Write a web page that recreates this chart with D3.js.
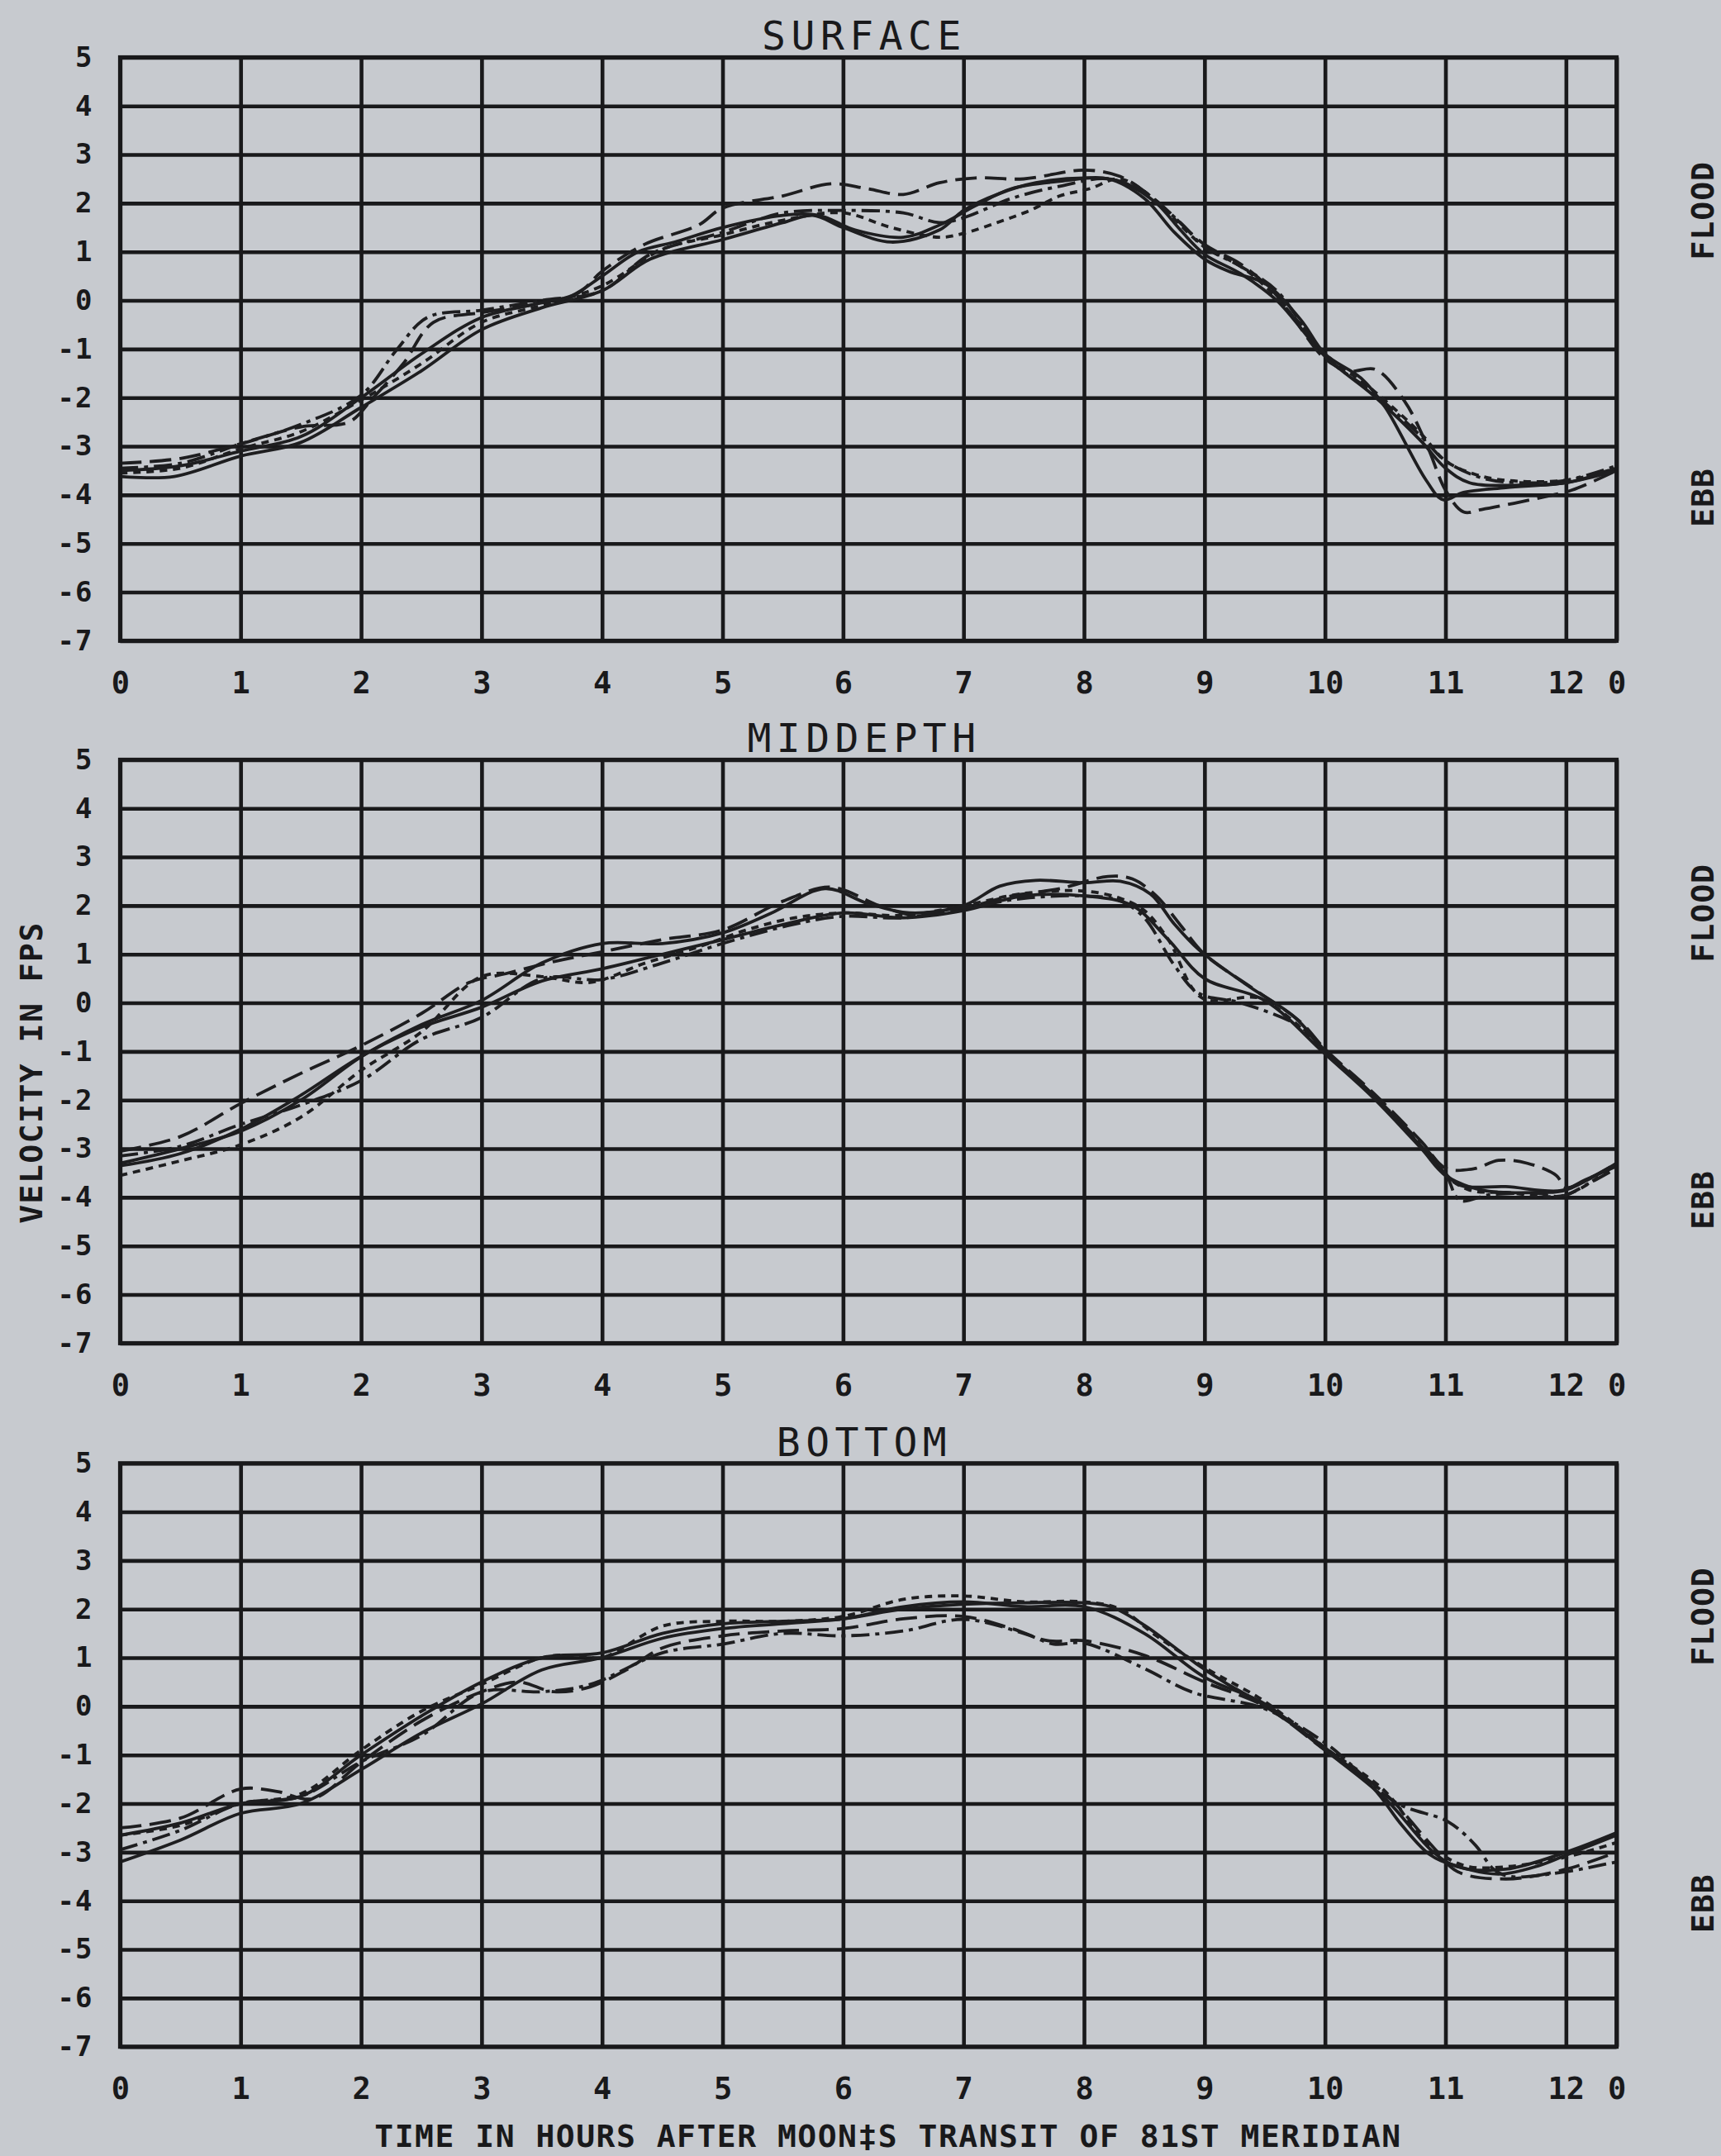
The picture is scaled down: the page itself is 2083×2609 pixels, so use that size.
<!DOCTYPE html>
<html><head><meta charset="utf-8">
<script src="https://cdn.jsdelivr.net/npm/d3@7"></script>
<style>html,body{margin:0;padding:0;background:#c7cacf;} svg{display:block}</style>
</head><body>
<svg id="c" width="2083" height="2609"></svg>
<script>
// ---------- DATA ----------
const xTickValues = [0,1,2,3,4,5,6,7,8,9,10,11,12,12.42];
const xTickLabels = ["0","1","2","3","4","5","6","7","8","9","10","11","12","0"];
const yTickValues = [5,4,3,2,1,0,-1,-2,-3,-4,-5,-6,-7];
const panelTitles = ["SURFACE","MIDDEPTH","BOTTOM"];
const sideLabels = ["FLOOD","EBB"];
const sideLabelValues = [1.85,-4.05];
const yTitle = "VELOCITY IN FPS";
const xTitle = "TIME IN HOURS AFTER MOON‡S TRANSIT OF 81ST MERIDIAN";

// SURFACE  [hour, velocity fps]
const surfaceA = [[0,-3.62],[0.45,-3.62],[1,-3.2],[1.5,-2.92],[2,-2.2],[2.5,-1.45],[3,-0.6],[3.5,-0.15],[4,0.2],[4.4,0.85],[5,1.25],[5.5,1.6],[5.75,1.75],[6,1.5],[6.4,1.2],[6.8,1.45],[7,1.85],[7.3,2.2],[7.6,2.42],[8,2.52],[8.3,2.45],[8.6,2.0],[8.8,1.45],[9,0.95],[9.3,0.55],[9.6,0.0],[10,-1.15],[10.4,-1.95],[10.8,-2.9],[11,-3.45],[11.2,-3.75],[11.6,-3.8],[12,-3.75],[12.42,-3.45]];
const surfaceB = [[0,-3.35],[0.5,-3.25],[1,-2.95],[1.5,-2.6],[1.9,-2.5],[2.1,-2.0],[2.35,-1.3],[2.6,-0.45],[3,-0.25],[3.5,-0.05],[3.8,0.15],[4,0.6],[4.35,1.15],[4.8,1.55],[5,1.9],[5.5,2.15],[5.9,2.4],[6.2,2.3],[6.5,2.18],[6.8,2.42],[7.1,2.52],[7.5,2.5],[8,2.68],[8.3,2.55],[8.6,2.05],[9,1.15],[9.3,0.75],[9.6,0.1],[10,-1.2],[10.2,-1.45],[10.42,-1.42],[10.66,-2.07],[10.85,-3.0],[11.0,-3.9],[11.15,-4.35],[11.3,-4.3],[11.8,-4.05],[12.05,-3.9],[12.42,-3.5]];
const surfaceC = [[0,-3.55],[0.5,-3.45],[1,-3.05],[1.5,-2.7],[2,-2.05],[2.5,-1.3],[3,-0.45],[3.5,-0.1],[4,0.3],[4.5,1.05],[5,1.35],[5.5,1.65],[6,1.8],[6.4,1.5],[6.8,1.3],[7,1.38],[7.3,1.62],[7.55,1.85],[7.8,2.15],[8.05,2.3],[8.3,2.5],[8.6,2.05],[8.8,1.55],[9,1.1],[9.3,0.7],[9.5,0.3],[9.8,-0.5],[10,-1.1],[10.4,-1.85],[10.8,-2.75],[11,-3.3],[11.25,-3.58],[11.5,-3.7],[12,-3.7],[12.42,-3.45]];
const surfaceD = [[0,-3.45],[0.5,-3.35],[1,-2.95],[1.5,-2.55],[2,-1.95],[2.3,-1.0],[2.55,-0.35],[3,-0.2],[3.5,0.0],[4,0.2],[4.4,0.95],[5,1.4],[5.5,1.8],[6,1.85],[6.5,1.8],[6.8,1.6],[7,1.7],[7.4,2.1],[7.8,2.35],[8.2,2.5],[8.5,2.2],[8.8,1.6],[9,1.1],[9.3,0.7],[9.6,0.2],[10,-1.15],[10.4,-1.9],[10.8,-2.8],[11,-3.3],[11.3,-3.65],[11.6,-3.75],[12,-3.7],[12.42,-3.4]];
const surfaceE = [[0,-3.5],[0.5,-3.4],[1,-3.1],[1.5,-2.8],[2,-2.0],[2.5,-1.1],[3,-0.35],[3.5,-0.05],[3.75,0.1],[4,0.5],[4.3,1.0],[4.6,1.2],[5,1.5],[5.5,1.75],[5.8,1.75],[6.1,1.45],[6.5,1.3],[6.8,1.55],[7.1,1.95],[7.4,2.3],[7.8,2.45],[8.2,2.5],[8.5,2.1],[8.75,1.4],[9,0.85],[9.2,0.6],[9.5,0.35],[9.8,-0.4],[10,-1.1],[10.3,-1.6],[10.5,-2.2],[10.84,-3.7],[10.98,-4.1],[11.15,-3.95],[11.5,-3.85],[12,-3.75],[12.42,-3.5]];

// MIDDEPTH
const midA = [[0,-3.3],[0.5,-3.0],[1,-2.64],[1.5,-2.0],[2,-1.11],[2.5,-0.45],[3,0.05],[3.5,0.82],[4,1.22],[4.5,1.22],[5,1.44],[5.4,1.84],[5.85,2.35],[6.2,2.05],[6.55,1.85],[7,2.0],[7.3,2.4],[7.6,2.52],[8,2.47],[8.3,2.5],[8.55,2.24],[8.75,1.62],[8.95,1.1],[9.35,0.37],[9.75,-0.3],[10,-0.98],[10.4,-1.89],[10.76,-2.85],[10.96,-3.41],[11.12,-3.75],[11.5,-3.78],[11.96,-3.86],[12.16,-3.64],[12.42,-3.36]];
const midB = [[0,-3.05],[0.5,-2.75],[1,-2.07],[1.5,-1.45],[2,-0.88],[2.5,-0.22],[2.9,0.42],[3.2,0.6],[3.6,0.85],[4,1.05],[4.5,1.3],[5,1.5],[5.5,2.09],[5.9,2.38],[6.3,2.0],[6.6,1.8],[7,1.95],[7.4,2.2],[7.8,2.35],[8.2,2.6],[8.4,2.55],[8.6,2.2],[8.8,1.6],[9,1.0],[9.4,0.3],[9.8,-0.4],[10,-0.95],[10.4,-1.85],[10.8,-2.85],[11,-3.4],[11.24,-3.41],[11.44,-3.24],[11.68,-3.3],[11.92,-3.55],[12,-3.8],[12.2,-3.6],[12.42,-3.3]];
const midC = [[0,-3.55],[0.5,-3.25],[1,-2.92],[1.5,-2.35],[2,-1.39],[2.5,-0.6],[3,0.54],[3.5,0.54],[3.9,0.42],[4.36,0.82],[4.8,1.15],[5.2,1.5],[5.6,1.75],[6,1.85],[6.5,1.8],[7,2.0],[7.5,2.25],[8,2.3],[8.3,2.15],[8.5,1.9],[8.7,1.3],[8.98,0.1],[9.45,0.1],[9.7,-0.3],[10,-1.0],[10.4,-1.9],[10.8,-2.95],[11.0,-3.55],[11.2,-3.85],[11.5,-3.9],[12,-3.95],[12.42,-3.3]];
const midD = [[0,-3.15],[0.5,-2.95],[1,-2.5],[1.5,-2.1],[2,-1.6],[2.5,-0.75],[3,-0.3],[3.5,0.5],[4,0.48],[4.5,0.82],[5,1.22],[5.58,1.61],[6,1.78],[6.5,1.75],[7,1.95],[7.5,2.15],[8,2.2],[8.3,2.1],[8.5,1.75],[8.75,0.77],[8.95,0.2],[9.3,0.0],[9.8,-0.5],[10,-1.0],[10.4,-1.9],[10.8,-2.9],[11.0,-3.5],[11.12,-4.06],[11.36,-3.95],[11.76,-3.92],[11.96,-3.98],[12.2,-3.7],[12.42,-3.4]];
const midE = [[0,-3.35],[0.5,-3.1],[1,-2.6],[1.5,-1.9],[2,-1.1],[2.5,-0.5],[3,-0.09],[3.5,0.45],[4,0.7],[4.5,1.0],[5,1.3],[5.5,1.61],[6,1.85],[6.5,1.75],[7,1.9],[7.5,2.2],[8,2.2],[8.4,2.0],[8.7,1.3],[9,0.5],[9.5,0.05],[10,-1.05],[10.4,-1.95],[10.8,-3.0],[11,-3.55],[11.3,-3.85],[11.8,-3.9],[12,-3.85],[12.42,-3.3]];

// BOTTOM
const bottomA = [[0,-3.2],[0.5,-2.75],[1,-2.2],[1.5,-2.0],[2,-1.3],[2.5,-0.55],[3,0.05],[3.5,0.75],[4,1.0],[4.5,1.4],[5,1.6],[5.5,1.7],[6,1.8],[6.5,2.0],[7,2.1],[7.5,2.13],[8,2.13],[8.22,2.05],[8.5,1.67],[8.93,0.88],[9.17,0.49],[9.45,0.09],[10.02,-0.89],[10.4,-1.68],[10.64,-2.45],[10.87,-3.05],[11.06,-3.26],[11.44,-3.45],[11.77,-3.28],[12,-3.06],[12.42,-2.65]];
const bottomB = [[0,-2.5],[0.5,-2.3],[1,-1.7],[1.3,-1.75],[1.6,-1.9],[2,-1.15],[2.5,-0.3],[3,0.3],[3.3,0.5],[3.6,0.3],[3.9,0.4],[4.2,0.75],[4.5,1.2],[5,1.45],[5.5,1.55],[6,1.6],[6.5,1.8],[7,1.85],[7.4,1.6],[7.7,1.35],[8,1.35],[8.5,1.05],[9,0.5],[9.5,0.0],[10,-0.9],[10.5,-1.8],[10.9,-2.9],[11.1,-3.4],[11.5,-3.55],[12,-3.35],[12.42,-3.0]];
const bottomC = [[0,-2.65],[0.5,-2.45],[1,-2.0],[1.5,-1.8],[2,-0.9],[2.5,-0.1],[3,0.45],[3.5,1.0],[3.8,1.05],[4,1.0],[4.5,1.65],[5,1.75],[5.5,1.75],[6,1.85],[6.5,2.2],[7,2.27],[7.5,2.15],[8,2.15],[8.3,2.0],[8.6,1.45],[9,0.8],[9.5,0.1],[10,-0.85],[10.5,-1.75],[10.8,-2.7],[11.0,-3.1],[11.2,-3.3],[11.5,-3.3],[12,-3.1],[12.42,-2.8]];
const bottomD = [[0,-2.95],[0.5,-2.55],[1,-2.0],[1.5,-1.85],[2,-1.14],[2.5,-0.6],[3,0.29],[3.5,0.3],[3.9,0.45],[4.5,1.1],[5,1.28],[5.5,1.5],[6,1.45],[6.5,1.55],[7,1.79],[7.5,1.5],[7.75,1.28],[8,1.3],[8.5,0.78],[8.9,0.29],[9.5,-0.05],[10,-0.75],[10.59,-1.98],[11.02,-2.37],[11.25,-2.86],[11.4,-3.35],[11.54,-3.5],[12,-3.4],[12.3,-3.26],[12.42,-3.2]];
const bottomE = [[0,-2.65],[0.5,-2.4],[1,-2.0],[1.5,-1.85],[2,-1.0],[2.5,-0.2],[3,0.5],[3.5,1.0],[4,1.1],[4.5,1.5],[5,1.7],[5.5,1.75],[6,1.8],[6.5,2.05],[7,2.15],[7.5,2.05],[8,2.05],[8.5,1.5],[9,0.6],[9.5,0.05],[10,-0.9],[10.5,-1.9],[10.9,-3.0],[11.1,-3.3],[11.5,-3.35],[12,-3.0],[12.42,-2.6]];

const panelSeries = [
  [surfaceA, surfaceB, surfaceC, surfaceD, surfaceE],
  [midA, midB, midC, midD, midE],
  [bottomA, bottomB, bottomC, bottomD, bottomE]
];

// ---------- LAYOUT / STYLE ----------
const W = 2083, H = 2609;
const left = 145.4, right = 1956.6, panelH = 706;
const panelTops = [69.4, 919.4, 1770.7];
const FONT = "'DejaVu Sans Mono', 'Liberation Mono', monospace";
const INK = "#19191b";
const dashes = [null, "26,10", "9,7", "22,7,5,7", null];

const svg = d3.select("#c");
svg.append("rect").attr("width", W).attr("height", H).attr("fill", "#c7cacf");

const x = d3.scaleLinear().domain([0, 12.42]).range([left, right]);

panelSeries.forEach((series, i) => {
  const top = panelTops[i];
  const y = d3.scaleLinear().domain([-7, 5]).range([top + panelH, top]);
  const g = svg.append("g");

  const ya = g.append("g").attr("transform", `translate(${left},0)`)
    .call(d3.axisLeft(y).tickValues(yTickValues).tickSize(-(right - left)).tickPadding(33).tickFormat(d => String(d)));
  ya.select(".domain").remove();
  ya.selectAll("line").attr("stroke", INK).attr("stroke-width", 4.6);
  ya.selectAll("text").attr("font-family", FONT).attr("font-weight", "bold")
    .attr("font-size", 34).attr("fill", INK).attr("letter-spacing", 1);

  const xa = g.append("g").attr("transform", `translate(0,${top + panelH})`)
    .call(d3.axisBottom(x).tickValues(xTickValues).tickSize(-panelH).tickPadding(37).tickFormat((d, j) => xTickLabels[j]));
  xa.select(".domain").remove();
  xa.selectAll("line").attr("stroke", INK).attr("stroke-width", 4.6);
  xa.selectAll("text").attr("font-family", FONT).attr("font-weight", "bold")
    .attr("font-size", 37).attr("fill", INK);

  const line = d3.line().x(d => x(d[0])).y(d => y(d[1])).curve(d3.curveCatmullRom.alpha(0.5));
  series.forEach((s, k) => {
    g.append("path").attr("d", line(s)).attr("fill", "none")
      .attr("stroke", "#1e1e20").attr("stroke-width", 3.8)
      .attr("stroke-linejoin", "round")
      .attr("stroke-dasharray", dashes[k]);
  });

  g.append("rect").attr("x", left).attr("y", top).attr("width", right - left).attr("height", panelH)
    .attr("fill", "none").attr("stroke", INK).attr("stroke-width", 5);

  g.append("text").attr("x", 1046).attr("y", top - 9).attr("text-anchor", "middle")
    .attr("font-family", FONT).attr("font-size", 48).attr("letter-spacing", 6.5)
    .attr("fill", INK).text(panelTitles[i]);

  sideLabels.forEach((lab, k) => {
    g.append("text").attr("transform", `translate(2060,${y(sideLabelValues[k])}) rotate(-90)`)
      .attr("text-anchor", "middle").attr("dy", "0.36em")
      .attr("font-family", FONT).attr("font-weight", "bold").attr("font-size", 38)
      .attr("letter-spacing", 1).attr("fill", INK).text(lab);
  });
});

svg.append("text").attr("transform", "translate(37,1298) rotate(-90)")
  .attr("text-anchor", "middle").attr("dy", "0.36em")
  .attr("font-family", FONT).attr("font-weight", "bold").attr("font-size", 38)
  .attr("letter-spacing", 1.5).attr("fill", INK).text(yTitle);

svg.append("text").attr("x", 1075).attr("y", 2598).attr("text-anchor", "middle")
  .attr("font-family", FONT).attr("font-weight", "bold").attr("font-size", 38)
  .attr("letter-spacing", 1.5).attr("fill", INK).text(xTitle);
</script>
</body></html>
